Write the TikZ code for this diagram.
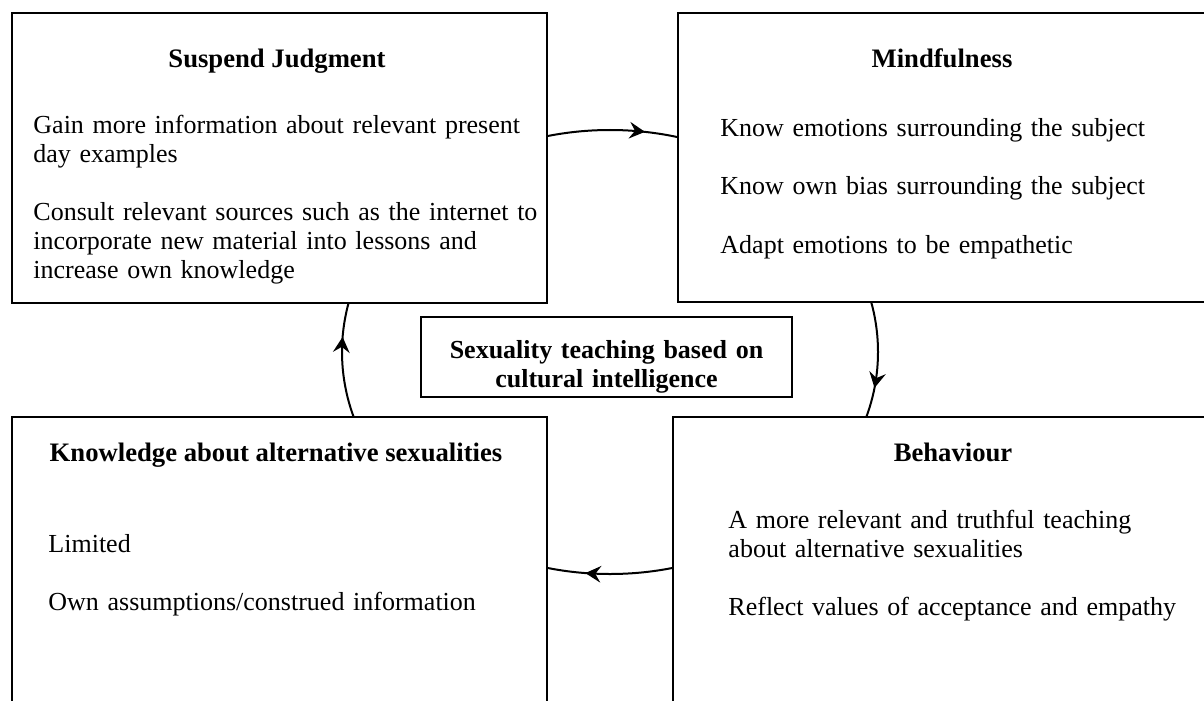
\documentclass[tikz,border=0pt]{standalone}
\usepackage{fontspec}
\setmainfont{Liberation Serif}
\usetikzlibrary{arrows.meta,decorations.markings,fit}

\begin{document}
\begin{tikzpicture}[x=0.45pt,y=-0.45pt,
    flow/.tip={Stealth[length=7pt,width=7.5pt,inset=2.5pt]},
    panel/.style={draw,line width=1pt,fill=white,inner sep=0pt},
    head/.style={font=\fontsize{12}{13.05}\selectfont\bfseries,anchor=base,inner sep=0pt},
    body/.style={font=\fontsize{11.7}{13.05}\selectfont,anchor=base west,align=left,
        text width=250pt,inner sep=0pt},
    hub/.style={draw,line width=1pt,font=\fontsize{11.7}{13.05}\selectfont\bfseries,
        align=center,text width=167pt,text height=18.45pt,text depth=17.55pt,
        inner sep=0pt,anchor=base},
    ring/.style={line width=0.9pt,postaction={decorate},decoration={markings,
        mark=at position 0.0234 with {\arrow{flow}},
        mark=at position 0.266 with {\arrow{flow}},
        mark=at position 0.5098 with {\arrow{flow}},
        mark=at position 0.7727 with {\arrow{flow}}}}]

    \useasboundingbox (0,0) rectangle (1204,700);
    \clip (0,0) rectangle (1204,700);

    % the cycle behind the four boxes
    \coordinate (mid) at (610,352);
    \draw[ring] (mid) ellipse [x radius=268,y radius=222];

    \node[hub] (hub) at (606.5,358) {Sexuality teaching based on\\cultural intelligence};

    \node[panel,fit={(12,13) (547,303)}] (sj) {};
    \node[panel,fit={(678,13) (1206,302)}] (mf) {};
    \node[panel,fit={(12,417) (547,720)}] (kn) {};
    \node[panel,fit={(673,417) (1236,720)}] (bh) {};

    \node[head] (sj-head) at (277,68) {Suspend Judgment};
    \node[body] (sj-text) at (33,133) {Gain more information about relevant present\\
        day examples\\[13.05pt]
        Consult relevant sources such as the internet to\\
        incorporate new material into lessons and\\
        increase own knowledge};

    \node[head] (mf-head) at (942,68) {Mindfulness};
    \node[body] (mf-text) at (720,137) {Know emotions surrounding the subject\\[13.05pt]
        Know own bias surrounding the subject\\[13.05pt]
        Adapt emotions to be empathetic};

    \node[head] (kn-head) at (276,461) {Knowledge about alternative sexualities};
    \node[body] (kn-text) at (48,552) {Limited\\[13.05pt]
        Own assumptions/construed information};

    \node[head] (bh-head) at (953,461) {Behaviour};
    \node[body] (bh-text) at (728,528) {A more relevant and truthful teaching\\
        about alternative sexualities\\[13.05pt]
        Reflect values of acceptance and empathy};
\end{tikzpicture}
\end{document}
